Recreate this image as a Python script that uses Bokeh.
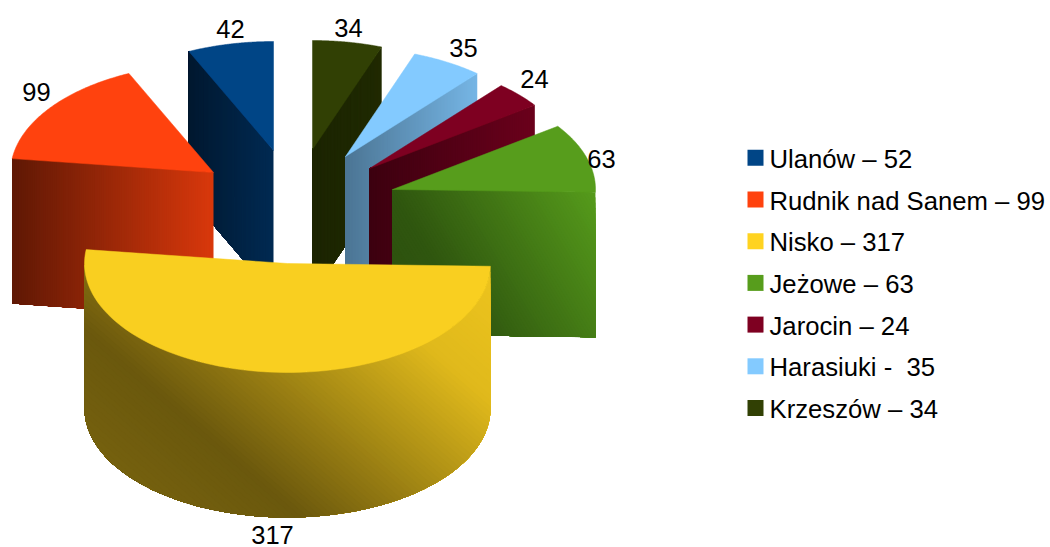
import numpy as np
from bokeh.plotting import figure
from bokeh.models import ColumnDataSource
from bokeh.core.properties import value
from bokeh.embed import file_html
from bokeh.resources import INLINE

# --- data ---
names = ["Ulanów", "Rudnik nad Sanem", "Nisko", "Jeżowe", "Jarocin", "Harasiuki", "Krzeszów"]
values = [42, 99, 317, 63, 24, 35, 34]
legend_labels = ["Ulanów – 52", "Rudnik nad Sanem – 99", "Nisko – 317", "Jeżowe – 63",
                 "Jarocin – 24", "Harasiuki - \u00a035", "Krzeszów – 34"]
colors = ["#004586", "#ff420e", "#ffd320", "#579d1c", "#7e0021", "#83caff", "#314004"]

# --- layout and style, in page pixels ---
W, H = 1050, 547
A, B, DEPTH = 203.0, 109.0, 145.0
START = 90.0
apex = {"Ulanów": (273, 150), "Rudnik nad Sanem": (213, 172), "Nisko": (287, 263), "Jeżowe": (392, 189),
        "Jarocin": (369, 168), "Harasiuki": (345, 156), "Krzeszów": (312, 149)}
label_pos = {"Ulanów": (230, 28), "Rudnik nad Sanem": (36, 91), "Nisko": (272, 534), "Jeżowe": (601, 158),
             "Jarocin": (534, 78), "Harasiuki": (463, 47), "Krzeszów": (348, 27)}
order = ["Krzeszów", "Ulanów", "Harasiuki", "Jarocin", "Rudnik nad Sanem", "Jeżowe", "Nisko"]
# which cut edge of each slice faces the viewer: 0 = first edge, 1 = last edge
wall_edge = {"Ulanów": 1, "Rudnik nad Sanem": 1, "Jeżowe": 0, "Jarocin": 0, "Harasiuki": 0, "Krzeszów": 0}
shade = {  # brightness of the wall along u = x - k*(y - y0)
    "Ulanów": (0.0, 0, [189, 273], [0.36, 0.62]),
    "Rudnik nad Sanem": (0.0, 0, [11, 213], [0.37, 0.85]),
    "Jeżowe": (0.6, 189, [300, 392, 600], [0.50, 0.55, 1.0]),
    "Jarocin": (0.0, 0, [369, 535], [0.48, 0.85]),
    "Harasiuki": (0.0, 0, [345, 477], [0.58, 0.90]),
    "Krzeszów": (0.0, 0, [312, 381], [0.58, 0.66]),
    "Nisko": (1.15, 397, [0, 167, 490, 700], [0.47, 0.42, 0.88, 0.95]),
}
top_color = {"Nisko": "#f9cf20"}
BANDS = 90

LEG_X, LEG_TEXT_X, LEG_Y0, LEG_DY, LEG_SZ = 747, 769, 157.3, 41.7, 16
FONT = "Liberation Sans"
FS = "25.5px"
LEG_FS = "25.7px"

total = sum(values)
angles = {}
a0 = START
for n, v in zip(names, values):
    a1 = a0 + v / total * 360.0
    angles[n] = (a0, a1)
    a0 = a1


def ell(n, deg):
    cx, cy = apex[n]
    r = np.radians(deg)
    return cx + A * np.cos(r), cy - B * np.sin(r)


def hexshade(hexc, f):
    rgb = [int(hexc[i:i + 2], 16) for i in (1, 3, 5)]
    return "#%02x%02x%02x" % tuple(int(min(255, c * f)) for c in rgb)


def clip_below(px, py, uf, lim):
    """Keep the part of a polygon where uf(x, y) <= lim."""
    ox, oy = [], []
    m = len(px)
    for i in range(m):
        x0, y0, x1, y1 = px[i], py[i], px[(i + 1) % m], py[(i + 1) % m]
        u0, u1 = uf(x0, y0), uf(x1, y1)
        if u0 <= lim:
            ox.append(x0)
            oy.append(y0)
        if (u0 <= lim) != (u1 <= lim):
            s = (lim - u0) / (u1 - u0)
            ox.append(x0 + (x1 - x0) * s)
            oy.append(y0 + (y1 - y0) * s)
    return ox, oy


p = figure(width=W, height=H, x_range=(0, W), y_range=(H, 0), output_backend="svg",
           toolbar_location=None, min_border=0, outline_line_color=None)
p.axis.visible = False
p.grid.visible = False
p.background_fill_color = "white"
p.border_fill_color = "white"

for n in order:
    base = colors[names.index(n)]
    a, b = angles[n]
    cx, cy = apex[n]
    if n == "Nisko":
        th = np.linspace(180.0, b, 90)
        ex, ey = ell(n, th)
        wx = list(ex) + list(ex[::-1])
        wy = list(ey) + list((ey + DEPTH)[::-1])
    else:
        ox, oy = ell(n, b if wall_edge[n] else a)
        wx = [cx, ox, ox, cx]
        wy = [cy, oy, oy + DEPTH, cy + DEPTH]
    k, y00, us, fs = shade[n]
    uf = lambda x, y: x - k * (y - y00)
    uvals = [uf(x, y) for x, y in zip(wx, wy)]
    levels = np.linspace(max(uvals), min(uvals), BANDS, endpoint=False)
    xs, ys, cs = [], [], []
    for lv in levels:
        qx, qy = clip_below(wx, wy, uf, lv)
        if len(qx) >= 3:
            xs.append(qx)
            ys.append(qy)
            cs.append(hexshade(base, float(np.interp(lv, us, fs))))
    p.patches(xs, ys, fill_color=cs, line_color=None)
    # top face
    th = np.linspace(a, b, 80)
    ex, ey = ell(n, th)
    tc = top_color.get(n, base)
    p.patch(np.r_[cx, ex], np.r_[cy, ey], fill_color=tc, line_color=tc, line_width=0.5)

# value labels
lab = ColumnDataSource(dict(
    x=[label_pos[n][0] for n in names],
    y=[label_pos[n][1] for n in names],
    t=[str(v) for v in values]))
p.text("x", "y", text="t", source=lab, text_font=value(FONT), text_font_size=value(FS),
       text_align="center", text_baseline="middle", text_color="#000000")

# legend
ly = [LEG_Y0 + i * LEG_DY for i in range(len(names))]
p.quad(left=LEG_X, right=LEG_X + LEG_SZ, top=[y - LEG_SZ / 2 for y in ly], bottom=[y + LEG_SZ / 2 for y in ly],
       fill_color=colors, line_color=None)
leg = ColumnDataSource(dict(x=[LEG_TEXT_X] * len(ly), y=[y + 1 for y in ly], t=legend_labels))
p.text("x", "y", text="t", source=leg, text_font=value(FONT), text_font_size=value(LEG_FS),
       text_align="left", text_baseline="middle", text_color="#000000")

open("out.html", "w").write(file_html(p, INLINE))
